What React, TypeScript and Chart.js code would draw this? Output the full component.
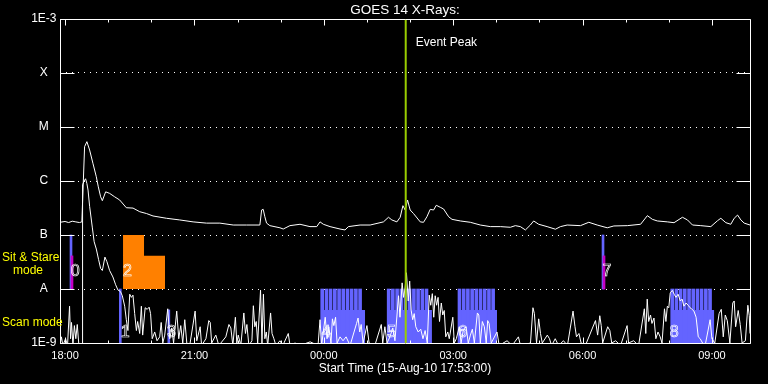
import { useEffect, useRef } from "react";
import { Chart, registerables } from "chart.js";

Chart.register(...registerables);

// ---------- text ----------
const TITLE = "GOES 14 X-Rays:";
const X_TITLE = "Start Time (15-Aug-10 17:53:00)";
const EVENT_LABEL = "Event Peak";
const SIT_LABEL_1 = "Sit & Stare";
const SIT_LABEL_2 = "mode";
const SCAN_LABEL = "Scan mode";

// ---------- axes (x in minutes after 18:00 on 15-Aug-10) ----------
const X_MIN = -7;
const X_MAX = 953;
const xTickValues = [0, 180, 360, 540, 720, 900];
const xTickLabels = ["18:00", "21:00", "00:00", "03:00", "06:00", "09:00"];
const xHourTicks = [0, 60, 120, 180, 240, 300, 360, 420, 480, 540, 600, 660, 720, 780, 840, 900];
const yTickValues = [1e-9, 1e-8, 1e-7, 1e-6, 1e-5, 1e-4, 1e-3];
const yTickLabels = ["1E-9", "A", "B", "C", "M", "X", "1E-3"];

// ---------- long channel (1-8 A) ----------
const longTimes = [
  -7, 0, 5, 10, 15, 20, 23.4, 27.2, 30.4, 34.2, 38.8, 43.5, 46.3, 49.5, 51.9, 56.5, 62, 69, 76, 85.3,
  94.6, 103.9, 113.2, 122.4, 141.1, 159.6, 178.2, 196.8, 215.4, 234, 252.6, 271.1, 273.5, 275.7, 278,
  280.4, 285, 299, 303.6, 312.9, 326.9, 340.8, 350.2, 354.8, 359.4, 368.7, 382.6, 389.6, 394.2, 410.5,
  424.5, 443, 450, 454.7, 461.7, 466.3, 470.1, 473.3, 476.5, 480.2, 484.8, 494.2, 498.8, 503.5, 508.1,
  512.7, 516.5, 522.1, 526.7, 533.7, 538.4, 550, 563.9, 577.8, 591.7, 605.7, 619.6, 626.5, 633.5,
  640.5, 647.4, 652, 659, 670.7, 682.3, 689.3, 698.6, 717.1, 728.7, 740.4, 754.4, 763.6, 782.3, 800.8,
  810.2, 817.2, 824.1, 838.1, 847.3, 859, 866, 873, 884.5, 898.5, 907.8, 912.4, 919.4, 926.3, 931,
  935.7, 940.3, 944.9, 953,
];
const longFlux = [
  1.72e-7, 1.78e-7, 1.7e-7, 1.8e-7, 1.75e-7, 1.7e-7, 1.75e-7, 4.31e-6, 5.35e-6, 3.75e-6, 2.13e-6,
  1.2e-6, 7.8e-7, 5.1e-7, 4.32e-7, 6.3e-7, 5.9e-7, 5.1e-7, 4.45e-7, 3.2e-7, 3.15e-7, 2.7e-7, 2.5e-7,
  2.25e-7, 2.04e-7, 1.9e-7, 1.75e-7, 1.66e-7, 1.66e-7, 1.53e-7, 1.53e-7, 1.53e-7, 2.9e-7, 2.99e-7,
  2.18e-7, 1.66e-7, 1.49e-7, 1.36e-7, 1.29e-7, 1.49e-7, 1.58e-7, 1.43e-7, 1.43e-7, 1.75e-7, 1.58e-7,
  1.43e-7, 1.29e-7, 1.24e-7, 1.43e-7, 1.53e-7, 1.53e-7, 1.75e-7, 2.13e-7, 1.9e-7, 1.75e-7, 2.13e-7,
  3.49e-7, 2.9e-7, 4.45e-7, 2.9e-7, 2.5e-7, 1.75e-7, 1.72e-7, 2.18e-7, 2.99e-7, 2.9e-7, 3.55e-7,
  3.26e-7, 3.03e-7, 2.18e-7, 1.95e-7, 1.82e-7, 1.72e-7, 1.53e-7, 1.43e-7, 1.43e-7, 1.39e-7, 1.49e-7,
  1.43e-7, 1.24e-7, 1.53e-7, 1.82e-7, 1.58e-7, 1.43e-7, 1.28e-7, 1.43e-7, 1.53e-7, 1.49e-7, 1.72e-7,
  1.53e-7, 1.36e-7, 1.47e-7, 1.49e-7, 1.58e-7, 2.28e-7, 1.95e-7, 1.82e-7, 1.75e-7, 1.69e-7, 2.13e-7,
  1.9e-7, 1.53e-7, 1.49e-7, 1.43e-7, 1.84e-7, 2.04e-7, 1.69e-7, 1.58e-7, 2.04e-7, 2.34e-7, 1.9e-7,
  1.66e-7, 1.53e-7,
];

// ---------- short channel (0.5-4 A) ----------
const shortTimes = [
  -7, -5, -3, 0.7, 3.5, 6.3, 7.7, 9, 11, 13, 15, 17, 19, 21.6, 23.8, 24.4, 26.5, 28.6, 30.4, 32, 34.2,
  37.9, 40.5, 43.5, 46.7, 49.5, 51.9, 55.5, 58.3, 62, 66.6, 70.4, 73.6, 77, 79.7, 83, 85.3, 87.5, 90,
  92.3, 94.5, 96.9, 99.3, 101, 103.9, 106.2, 108, 111.5, 114.3, 117, 119, 121.3, 124.8, 128, 131.7,
  133.8, 136, 138.7, 142.9, 145.7, 148.5, 151, 155.4, 158.2, 161, 163.8, 166.6, 169.4, 173.5, 181,
  183.3, 188, 190, 196, 200, 202, 204, 209.8, 214, 223.7, 228, 230.7, 233.5, 237, 239, 241, 244.6,
  248.8, 251, 253, 255.8, 260, 262, 264, 266, 268, 272, 274, 276, 278, 280, 282, 286, 288, 290.6,
  293.4, 299, 303, 310.6, 313, 320, 327, 341, 352, 354.8, 357, 359, 362, 364.5, 367, 370, 372, 374,
  376.4, 378.5, 382.6, 386.8, 391, 396.6, 405.6, 407.7, 410, 412, 414.7, 420, 423, 431, 440, 442, 445,
  448, 452, 456, 459, 464, 466, 469, 471, 473, 475, 477.5, 479.5, 481.6, 483.7, 485.8, 488, 491.4,
  494.9, 498, 501, 504, 506.7, 508.8, 511, 513, 515, 517, 519, 521, 523.5, 525.5, 527.6, 529.7, 532.5,
  534.6, 539.5, 541.6, 544.4, 548.5, 551, 554, 558, 561, 564, 566.7, 569.5, 573.7, 575.7, 577.8,
  580.6, 583.4, 586, 588, 590, 593, 601, 604, 615, 622, 630.8, 633.6, 647.6, 651, 653, 656, 659,
  661.5, 664, 671, 674, 677, 682, 686.6, 693.5, 699, 706.8, 709.5, 711.6, 715, 718, 724, 738, 741,
  744, 746, 748, 755, 758, 760.6, 766, 773, 782, 784, 791, 798, 806, 808, 810, 812, 814.6, 816.6,
  819.4, 822, 825, 828, 830.6, 834, 836, 838, 840, 842, 845, 847.5, 850, 853, 856, 858.6, 861, 864,
  867, 869.6, 872.4, 875, 878, 881, 883.7, 887, 890.6, 897.5, 900, 904, 910, 913, 915.8, 918.6, 921.4,
  925, 929, 931, 933, 936.6, 939.4, 942, 946.6, 950, 952, 953,
];
const shortFlux = [
  9e-10, 1.3e-9, 9e-10, 1.2e-9, 9e-10, 4.8e-9, 1.2e-9, 2.4e-9, 9e-10, 2.1e-9, 1.2e-9, 2.2e-9, 1.0e-9,
  9e-10, 1.0e-9, 8.5e-7, 1.0e-6, 1.1e-6, 9e-7, 6.8e-7, 3.4e-7, 1.4e-7, 7.5e-8, 5.5e-8, 3.5e-8, 2.4e-8,
  2.2e-8, 3.9e-8, 3.2e-8, 2.2e-8, 1.67e-8, 1.2e-8, 9.6e-9, 9e-9, 7.5e-9, 4.8e-9, 2.7e-9, 1.7e-9, 8e-9,
  7e-9, 7.7e-9, 3.5e-9, 1.7e-9, 2.5e-9, 1.5e-9, 4.8e-9, 1.4e-9, 4.5e-9, 4.2e-9, 4.6e-9, 3.5e-9,
  1.2e-9, 1.6e-9, 1.1e-9, 1.3e-9, 2.4e-9, 1.0e-9, 1.4e-9, 4.3e-9, 1.2e-9, 1.9e-9, 1.0e-9, 3.9e-9,
  1.2e-9, 2.1e-9, 1.0e-9, 2.7e-9, 1.0e-9, 9e-10, 3.9e-9, 1.1e-9, 2.0e-9, 9e-10, 1.2e-9, 2.6e-9, 2.4e-9,
  1.0e-9, 1.4e-9, 9e-10, 1.3e-9, 2.2e-9, 1.9e-9, 9e-10, 3.0e-9, 1.0e-9, 1.4e-9, 9e-10, 3.6e-9, 1.5e-9,
  2.2e-9, 9e-10, 1.1e-9, 4.9e-9, 2.0e-9, 2.5e-9, 1.0e-9, 9.5e-9, 1.0e-9, 8e-9, 1.2e-9, 1.6e-9, 9e-10,
  3.6e-9, 1.5e-9, 1.2e-9, 9e-10, 1.1e-9, 9e-10, 1.5e-9, 9e-10, 1.0e-9, 9e-10, 1.05e-9, 9e-10, 2.7e-9,
  9e-10, 1.5e-9, 3.0e-9, 1.2e-9, 2.0e-9, 1.0e-9, 2.8e-9, 2.1e-9, 3.0e-9, 1.0e-9, 1.3e-9, 1.1e-9,
  1.3e-9, 9e-10, 2.3e-9, 2.9e-9, 1.6e-9, 2.2e-9, 1.0e-9, 2.1e-9, 1.0e-9, 9e-10, 2.2e-9, 1.0e-9,
  2.0e-9, 1.0e-9, 1.3e-9, 1.9e-9, 1.1e-9, 7.5e-9, 3e-9, 1.3e-8, 7e-9, 1.0e-8, 2.0e-8, 6e-9, 1.4e-8,
  4e-9, 2.7e-9, 3.5e-9, 2.0e-9, 1.6e-9, 1.8e-9, 1.2e-9, 1.7e-9, 1.0e-9, 7.7e-9, 5e-9, 8.2e-9, 3e-9,
  7.5e-9, 5e-9, 7e-9, 2.5e-9, 5.5e-9, 3.3e-9, 4e-9, 1.3e-9, 1.6e-9, 1.2e-9, 3.0e-9, 1.0e-9, 1.2e-9,
  2.0e-9, 1.0e-9, 1.7e-9, 2.0e-9, 1.0e-9, 1.4e-9, 1.8e-9, 1.0e-9, 3.6e-9, 3.3e-9, 1.0e-9, 2.5e-9,
  2.0e-9, 1.0e-9, 2.6e-9, 2.3e-9, 1.0e-9, 1.6e-9, 9e-10, 1.1e-9, 9e-10, 1.3e-9, 9e-10, 1.0e-9, 4.5e-9,
  3.5e-9, 1.0e-9, 2.8e-9, 1.5e-9, 1.0e-9, 1.4e-9, 1.2e-9, 9e-10, 1.2e-9, 9e-10, 1.1e-9, 9e-10, 3.9e-9,
  2e-9, 1.3e-9, 1.5e-9, 1.0e-9, 9e-10, 2.6e-9, 1.4e-9, 3.2e-9, 2.1e-9, 1.0e-9, 2.0e-9, 1.7e-9, 1.0e-9,
  1.1e-9, 9e-10, 2.1e-9, 1.0e-9, 1.1e-9, 9e-10, 4.3e-9, 1.5e-9, 6.5e-9, 2.5e-9, 3.3e-9, 2.3e-9,
  2.9e-9, 1.2e-9, 1.6e-9, 1.3e-9, 1.0e-9, 4.3e-9, 2.5e-9, 4.8e-9, 4.5e-9, 8.5e-9, 9.4e-9, 8e-9, 7e-9,
  8e-9, 6e-9, 6.5e-9, 4.8e-9, 5.5e-9, 5e-9, 4.5e-9, 4.2e-9, 3.9e-9, 3e-9, 1.3e-9, 1.2e-9, 1.0e-9,
  9e-10, 2.7e-9, 1.2e-9, 1.0e-9, 3.5e-9, 4.2e-9, 1.3e-9, 3.3e-9, 2.6e-9, 1.0e-9, 5.5e-9, 6e-9, 2.0e-9,
  4.0e-9, 2.2e-9, 1.0e-9, 1.1e-9, 5.0e-9, 3.2e-9, 1.5e-9,
];

// ---------- event peak ----------
const eventPeakTime = 474;

// ---------- observing modes ----------
const sitStareTimes = [8.3, 748.5];
const sitStareLow = 1e-8;
const sitStareHigh = 1e-7;
const sitStarePointTimes = [9.7, 749.9];
const sitStarePointHigh = 4.1e-8;
const orangeTimes = [80.7, 109.9, 109.9, 139.1];
const orangeFlux = [1e-7, 1e-7, 4.14e-8, 4.14e-8];
const scanBarTimes = [76.9, 144.4];
const scanBarTops = [1e-8, 4.1e-9];
const scanBlockStarts = [355.7, 448.2, 546.7, 842.7];
const scanBlockEnds = [417.5, 510.5, 601, 903.3];
const scanBlockLevel = 4.1e-9;
const scanTeethTop = 1e-8;
const scanTeethTimes = [
  357.8, 363.7, 369.5, 375.4, 381.3, 387.1, 393, 398.8, 404.7, 410.5,
  450.3, 456.1, 462, 467.8, 473.7, 479.5, 485.4, 491.2, 497.1, 502.9,
  548.8, 554.7, 560.5, 566.4, 572.2, 578.1, 583.9, 589.8, 595.6,
  844.8, 850.6, 856.5, 862.3, 868.2, 874, 879.9, 885.7, 891.6, 897.4,
];
const modeLabels = ["0", "1", "2", "3", "4", "5", "6", "7", "8"];
const modeLabelTimes = [9.3, 78.9, 82, 143.3, 358.5, 449.5, 548.6, 749, 842.7];
const modeLabelFlux = [2.07e-8, 1.53e-9, 2.07e-8, 1.53e-9, 1.53e-9, 1.53e-9, 1.53e-9, 2.07e-8, 1.53e-9];
const sitLabelFlux = [3.75e-8, 2.15e-8];
const scanLabelFlux = 2.35e-9;
const eventLabelFlux = 3.6e-4;

const BLUE = "#6464ff";
const MAGENTA = "#c400c4";
const ORANGE = "#ff8000";
const EVENT = "#99cc00";
const YELLOW = "#ffff00";
const FONT = "Liberation Sans";

const overlayPlugin = {
  id: "goesOverlay",
  afterDraw(chart: any) {
    const { ctx, chartArea: a, scales } = chart;
    const x = scales.x;
    const y = scales.y;
    ctx.save();
    ctx.strokeStyle = "#ffffff";
    ctx.lineWidth = 1;
    const L = Math.round(a.left) + 0.5;
    const R = Math.round(a.right) + 0.5;
    const T = Math.round(a.top) + 0.5;
    const B = Math.round(a.bottom) + 0.5;
    ctx.beginPath();
    ctx.rect(L, T, R - L, B - T);
    yTickValues.forEach((v) => {
      const py = Math.round(y.getPixelForValue(v)) + 0.5;
      ctx.moveTo(L, py);
      ctx.lineTo(L + 14, py);
      ctx.moveTo(R - 14, py);
      ctx.lineTo(R, py);
    });
    xHourTicks.forEach((m) => {
      const px = Math.round(x.getPixelForValue(m)) + 0.5;
      const len = xTickValues.includes(m) ? 6 : 3;
      ctx.moveTo(px, T);
      ctx.lineTo(px, T + len);
      ctx.moveTo(px, B);
      ctx.lineTo(px, B - len);
    });
    ctx.stroke();

    // mode numbers (outlined)
    ctx.font = `16px "${FONT}"`;
    ctx.textAlign = "left";
    ctx.textBaseline = "middle";
    ctx.lineWidth = 0.7;
    modeLabels.forEach((t, i) => {
      ctx.strokeText(t, x.getPixelForValue(modeLabelTimes[i]) - 1, y.getPixelForValue(modeLabelFlux[i]));
    });

    // event label
    ctx.fillStyle = "#ffffff";
    ctx.font = `12px "${FONT}"`;
    ctx.fillText(EVENT_LABEL, x.getPixelForValue(eventPeakTime) + 10, y.getPixelForValue(eventLabelFlux));

    // yellow mode captions
    ctx.fillStyle = YELLOW;
    ctx.font = `12px "${FONT}"`;
    ctx.fillText(SIT_LABEL_1, 2, y.getPixelForValue(sitLabelFlux[0]));
    ctx.fillText(SIT_LABEL_2, 13, y.getPixelForValue(sitLabelFlux[1]));
    ctx.fillText(SCAN_LABEL, 2, y.getPixelForValue(scanLabelFlux));
    ctx.restore();
  },
};

export default function App() {
  const ref = useRef<HTMLCanvasElement | null>(null);

  useEffect(() => {
    if (!ref.current) return;
    const pts = (xs: number[], ys: number[]) => xs.map((t, i) => ({ x: t, y: ys[i] }));
    const datasets: any[] = [
      {
        type: "line",
        label: "Event Peak",
        data: [
          { x: eventPeakTime, y: 1e-9 },
          { x: eventPeakTime, y: 1e-3 },
        ],
        borderColor: EVENT,
        borderWidth: 2,
        pointRadius: 0,
      },
      {
        type: "line",
        label: "1-8 A",
        data: pts(longTimes, longFlux),
        borderColor: "#ffffff",
        borderWidth: 1,
        pointRadius: 0,
      },
      {
        type: "line",
        label: "0.5-4 A",
        data: pts(shortTimes, shortFlux),
        borderColor: "#ffffff",
        borderWidth: 1,
        pointRadius: 0,
      },
      {
        type: "bar",
        label: "sit stare point",
        data: sitStarePointTimes.map((t) => ({ x: t, y: [sitStareLow, sitStarePointHigh] })),
        backgroundColor: MAGENTA,
        barThickness: 2,
        grouped: false,
      },
      {
        type: "bar",
        label: "sit stare",
        data: sitStareTimes.map((t) => ({ x: t, y: [sitStareLow, sitStareHigh] })),
        backgroundColor: BLUE,
        barThickness: 2,
        grouped: false,
      },
      {
        type: "line",
        label: "sit stare block",
        data: pts(orangeTimes, orangeFlux),
        borderColor: "transparent",
        backgroundColor: ORANGE,
        fill: { value: sitStareLow },
        pointRadius: 0,
      },
      {
        type: "bar",
        label: "scan single",
        data: scanBarTimes.map((t, i) => ({ x: t, y: [1e-9, scanBarTops[i]] })),
        backgroundColor: BLUE,
        barThickness: 2,
        grouped: false,
      },
      {
        type: "bar",
        label: "scan teeth",
        data: scanTeethTimes.map((t) => ({ x: t, y: [1e-9, scanTeethTop] })),
        backgroundColor: BLUE,
        barThickness: 3,
        grouped: false,
      },
      ...scanBlockStarts.map((s, i) => ({
        type: "line",
        label: "scan block " + i,
        data: [
          { x: s, y: scanBlockLevel },
          { x: scanBlockEnds[i], y: scanBlockLevel },
        ],
        borderColor: "transparent",
        backgroundColor: BLUE,
        fill: "start",
        pointRadius: 0,
      })),
    ];

    const chart = new Chart(ref.current, {
      type: "line",
      data: { datasets },
      plugins: [overlayPlugin],
      options: {
        responsive: false,
        animation: false,
        events: [],
        layout: { padding: { left: 0, right: 18, top: 0, bottom: 0 } },
        plugins: {
          legend: { display: false },
          tooltip: { enabled: false },
          title: {
            display: true,
            text: TITLE,
            color: "#ffffff",
            fullSize: false,
            font: { family: FONT, size: 13.5, weight: "normal" },
            padding: { top: 1.8, bottom: 1.0 },
          },
        },
        scales: {
          x: {
            type: "linear",
            min: X_MIN,
            max: X_MAX,
            bounds: "data",
            offset: false,
            afterBuildTicks: (s: any) => {
              s.ticks = xTickValues.map((v) => ({ value: v }));
            },
            afterFit: (s: any) => {
              s.height = 41;
            },
            grid: { display: false, drawTicks: false },
            border: { display: false },
            ticks: {
              color: "#ffffff",
              font: { family: FONT, size: 11 },
              padding: 6,
              maxRotation: 0,
              autoSkip: false,
              callback: (_v: any, i: number) => xTickLabels[i],
            },
            title: {
              display: true,
              text: X_TITLE,
              color: "#ffffff",
              font: { family: FONT, size: 12 },
              padding: { top: 0, bottom: 8.5 },
            },
          },
          y: {
            type: "logarithmic",
            min: 1e-9,
            max: 1e-3,
            afterBuildTicks: (s: any) => {
              s.ticks = yTickValues.map((v) => ({ value: v }));
            },
            afterFit: (s: any) => {
              s.width = 60;
            },
            grid: { color: "#ffffff", lineWidth: 1, drawTicks: false },
            border: { display: false, dash: [1, 5] },
            ticks: {
              color: "#ffffff",
              font: { family: FONT, size: 12 },
              padding: 3.5,
              crossAlign: "center",
              autoSkip: false,
              callback: (_v: any, i: number) => yTickLabels[i],
            },
          },
        },
      } as any,
    });
    return () => chart.destroy();
  }, []);

  return (
    <div style={{ position: "fixed", left: 0, top: 0, width: 768, height: 384, background: "#000" }}>
      <canvas ref={ref} width={768} height={384} style={{ display: "block" }} />
    </div>
  );
}
